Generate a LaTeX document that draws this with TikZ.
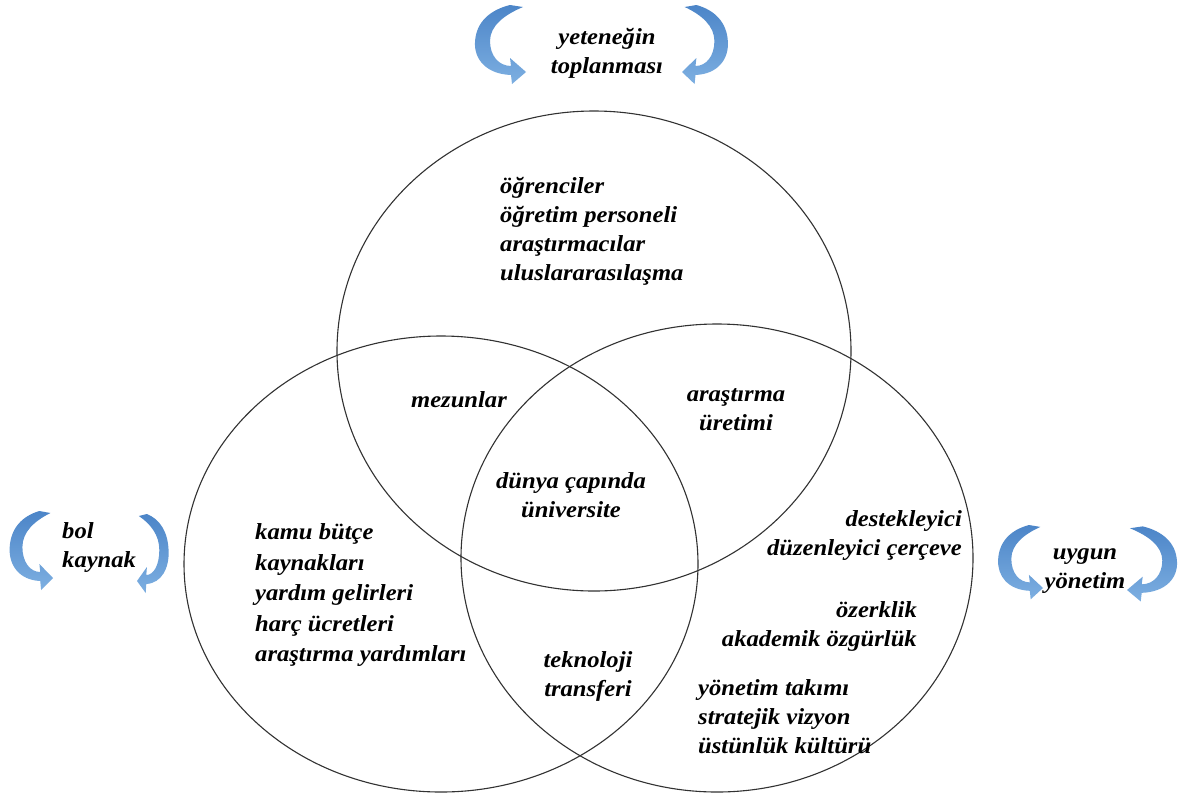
\documentclass[tikz,border=0pt]{standalone}
\usepackage{fontspec}
\setmainfont{Liberation Serif}[FakeStretch=1.07]
\usetikzlibrary{arrows.meta,shapes.geometric}
\definecolor{arrowblue}{RGB}{76,133,200}
\definecolor{arrowlight}{RGB}{125,175,225}
\definecolor{ringgray}{RGB}{50,50,50}
\begin{document}
\begin{tikzpicture}[x=1pt,y=-1pt,
  lbl/.style={font=\fontsize{23}{29}\selectfont\bfseries\itshape, inner sep=0pt, text=black},
  lblwide/.style={lbl, font=\fontsize{23}{30.5}\selectfont\bfseries\itshape},
  ring/.style={ellipse, draw=ringgray, line width=1.1pt, inner sep=0pt},
  carrow/.pic={
    \shade[left color=arrowblue, right color=arrowlight, shading angle=0]
      (0,0) -- (-14,12) -- (-15,3)
      .. controls (-40,2) and (-52,-13) .. (-51,-30)
      .. controls (-50,-50) and (-36,-62) .. (-16,-67)
      -- (-3,-65)
      .. controls (-22,-57) and (-36,-46) .. (-36,-31)
      .. controls (-36,-16) and (-27,-6) .. (-15,-6)
      -- (-16,-14) -- cycle;
  }]
\useasboundingbox[fill=white] (0,0) rectangle (1182,796);

% rings
\node[ring, minimum width=514pt, minimum height=480pt] (top) at (594,351) {};
\node[ring, minimum width=514pt, minimum height=456pt] (left) at (441,564) {};
\node[ring, minimum width=512pt, minimum height=468pt] (right) at (717,558) {};

% curved arrows (placed at their tips)
\pic (ya) at (526,72) {carrow};
\pic[xscale=-0.9] (yb) at (682,72) {carrow};
\pic[xscale=0.85] (ba) at (53,578) {carrow};
\pic[xscale=-0.62] (bb) at (137,581) {carrow};
\pic[xscale=0.88, yscale=0.94] (ua) at (1043,588) {carrow};
\pic[xscale=-0.98, yscale=0.95] (ub) at (1127,590) {carrow};

% texts
\node[lbl, anchor=west, align=left] (members) at (500,231) {öğrenciler\\öğretim personeli\\araştırmacılar\\uluslararasılaşma};
\node[lbl] (mezun) at (459,400) {mezunlar};
\node[lbl, align=center] (arast) at (736,410) {araştırma\\üretimi};
\node[lbl, align=center] (dunya) at (571,495) {dünya çapında\\üniversite};
\node[lblwide, anchor=west, align=left] (kamu) at (255,595) {kamu bütçe\\kaynakları\\yardım gelirleri\\harç ücretleri\\araştırma yardımları};
\node[lbl, align=center] (tek) at (588,676) {teknoloji\\transferi};
\node[lbl, anchor=east, align=right] (destek) at (962,535) {destekleyici\\düzenleyici çerçeve};
\node[lbl, anchor=east, align=right] (ozerk) at (917,626) {özerklik\\akademik özgürlük};
\node[lbl, anchor=west, align=left] (yonet) at (698,717) {yönetim takımı\\stratejik vizyon\\üstünlük kültürü};
\node[lbl, align=center] (yet) at (607,53) {yeteneğin\\toplanması};
\node[lbl, anchor=west, align=left] (bol) at (62,547) {bol\\kaynak};
\node[lbl, align=center] (uygun) at (1085,571) {uygun\\yönetim};
\end{tikzpicture}
\end{document}
